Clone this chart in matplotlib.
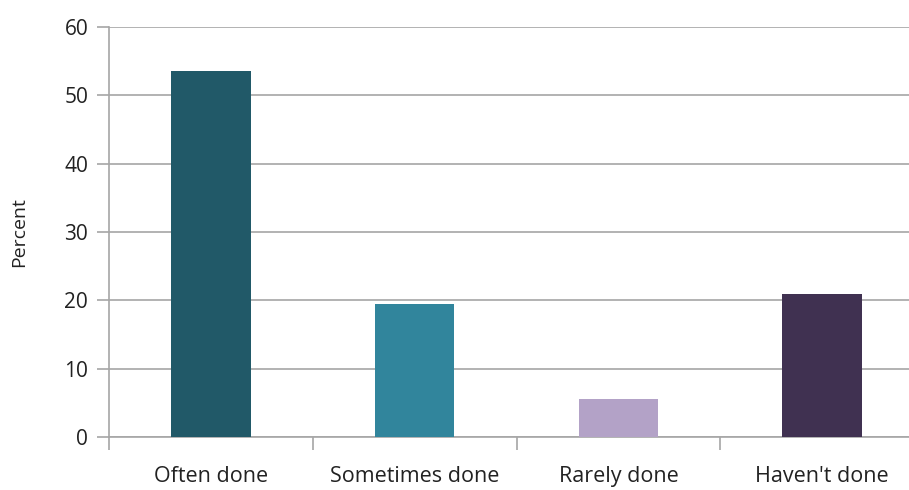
import matplotlib.pyplot as plt
from matplotlib.ticker import FixedLocator

categories = ["Often done", "Sometimes done", "Rarely done", "Haven't done"]
percent = [53.6, 19.4, 5.5, 20.9]
colors = ["#215968", "#31859C", "#B3A2C7", "#403151"]
yticks = [0, 10, 20, 30, 40, 50, 60]

plt.rcParams['font.family'] = ['Open Sans', 'DejaVu Sans']

fig = plt.figure(figsize=(9.09, 4.90), dpi=100)
ax = fig.add_axes([0.12, 0.108, 0.8965, 0.837])

x = list(range(len(categories)))
ax.bar(x, percent, width=0.39, color=colors, zorder=3)

ax.set_xlim(-0.5, len(categories) - 0.5)
ax.set_ylim(0, 60)
ax.set_yticks(yticks)
ax.yaxis.grid(True, color="#A6A6A6", linewidth=1.2, zorder=0)
ax.set_xticks(x)
ax.set_xticklabels(categories, fontsize=15.5, color="#222222")
ax.xaxis.set_minor_locator(FixedLocator([i - 0.5 for i in range(len(categories) + 1)]))
ax.tick_params(axis='x', which='major', length=0, pad=21)
ax.tick_params(axis='x', which='minor', length=9, color="#A6A6A6", width=1.2)
ax.tick_params(axis='y', length=9, color="#A6A6A6", width=1.2, labelsize=15,
               labelcolor="#222222", pad=6)

for side in ['top', 'right']:
    ax.spines[side].set_visible(False)
for side in ['left', 'bottom']:
    ax.spines[side].set_color("#A6A6A6")
    ax.spines[side].set_linewidth(1.2)

ax.set_ylabel("Percent", fontsize=14, color="#222222", labelpad=26)

fig.savefig("out.png", dpi=100)
